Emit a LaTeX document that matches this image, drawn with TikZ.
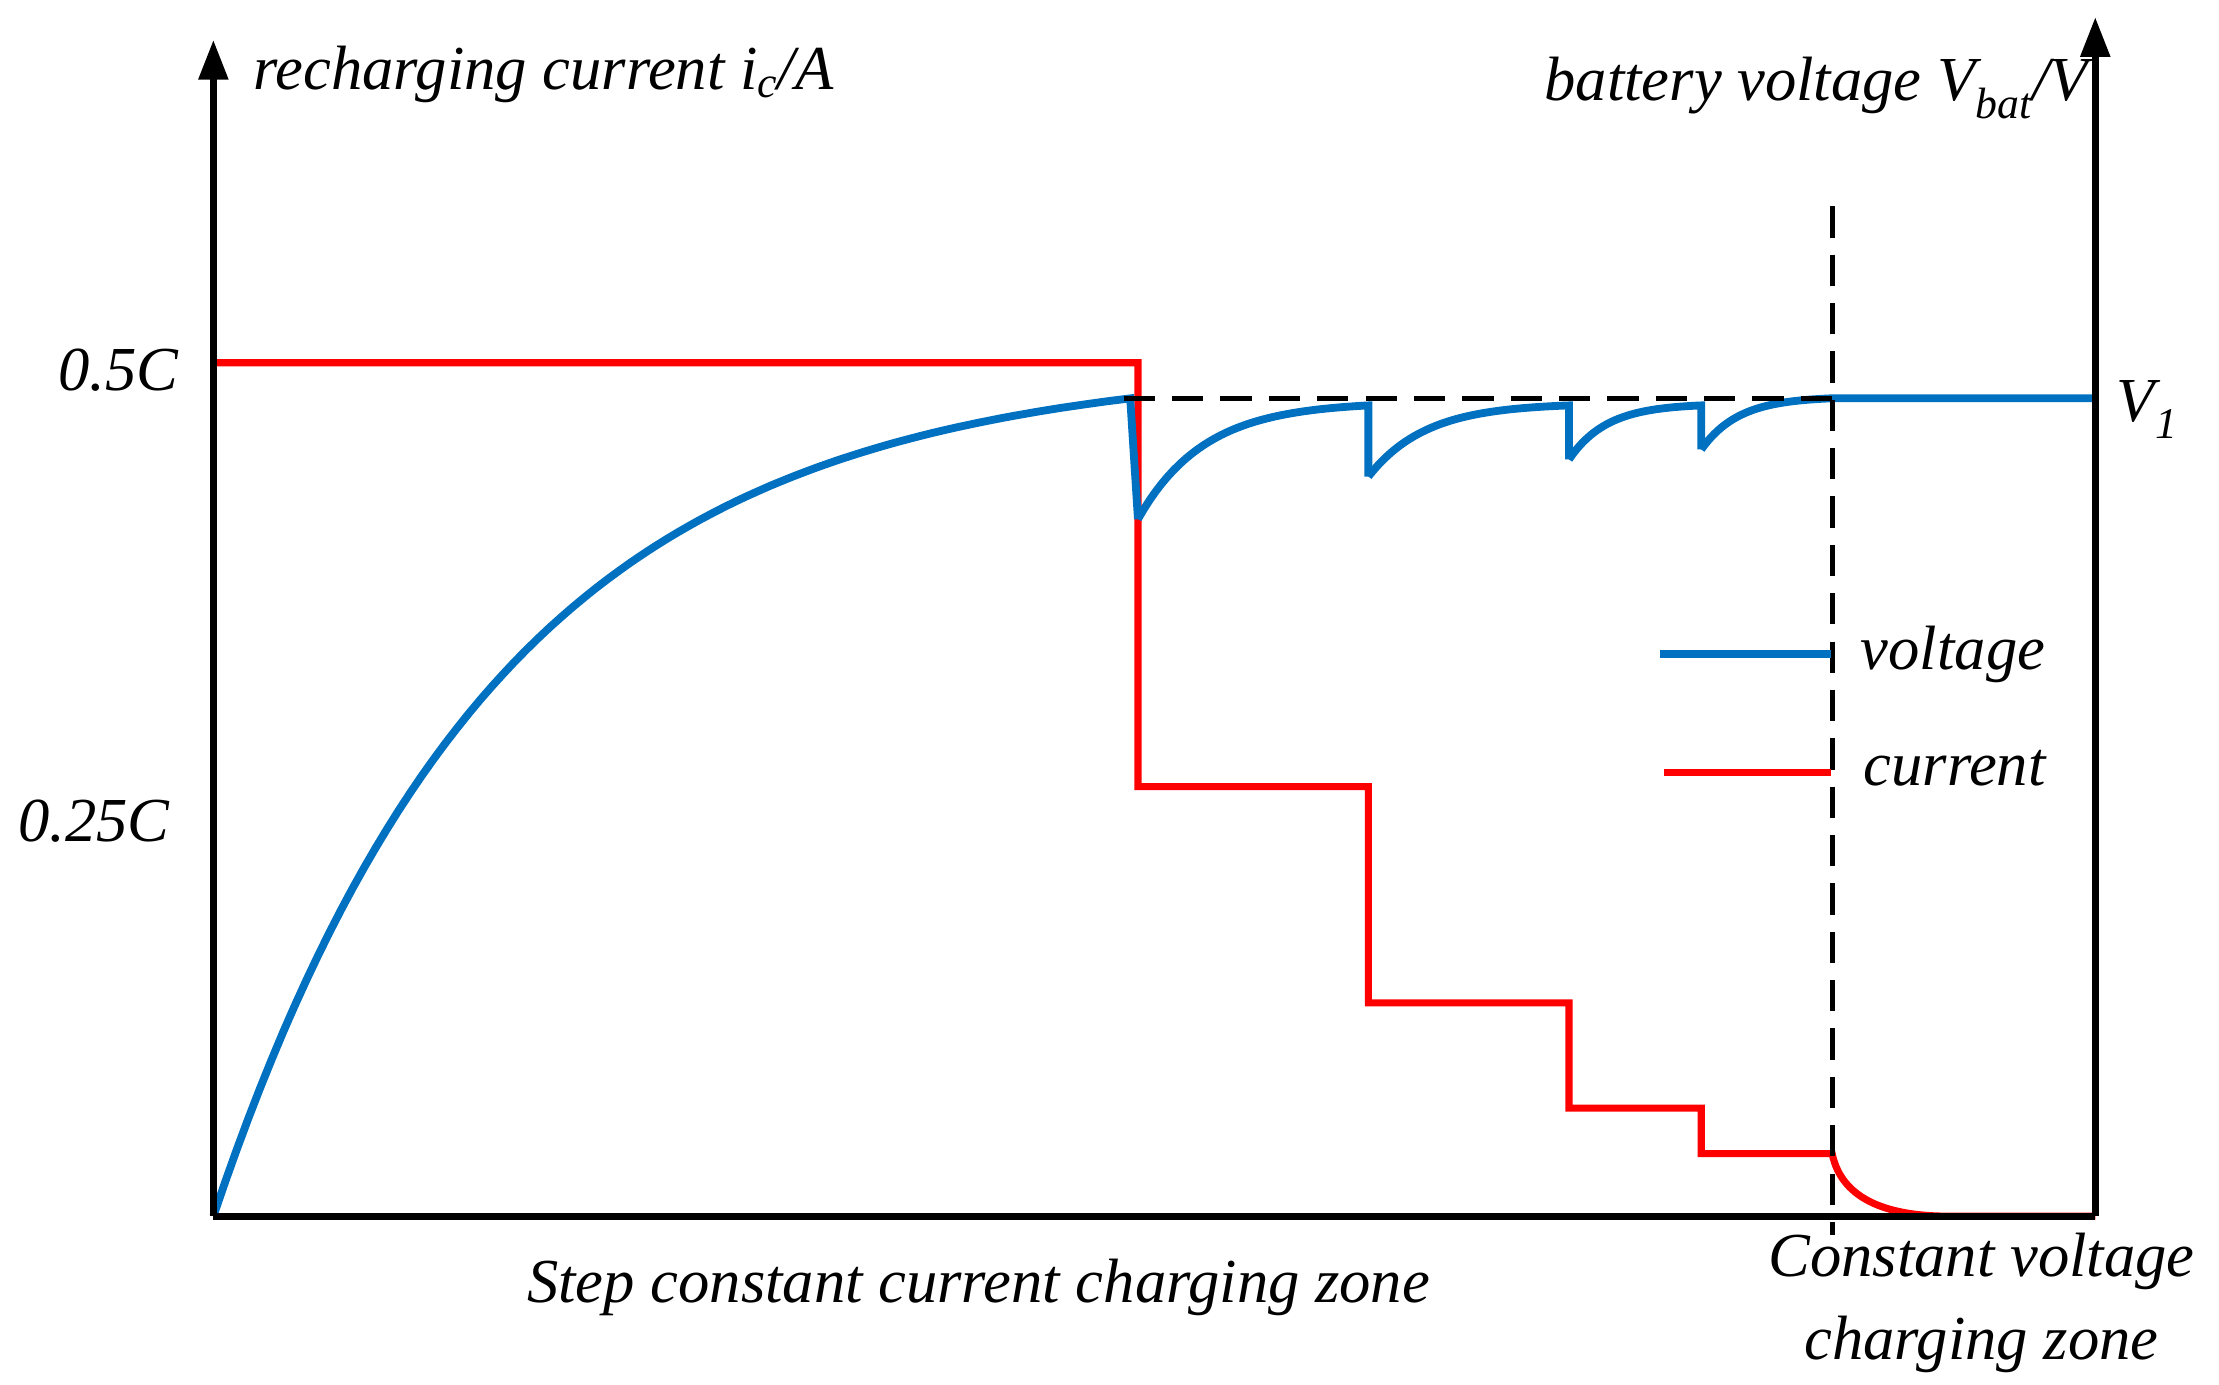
\documentclass[tikz,border=0pt]{standalone}
\usepackage{fontspec}
\setmainfont{Liberation Serif}
\usetikzlibrary{arrows.meta}
\definecolor{vblue}{RGB}{0,112,192}
\begin{document}
\begin{tikzpicture}[x=1pt,y=-1pt,
  ax/.style={line width=5pt,-{Triangle[length=28pt,width=20pt]}},
  vol/.style={vblue,line width=5.5pt},
  cur/.style={red,line width=5pt},
  dsh/.style={black,line width=3.5pt,dash pattern=on 22pt off 12pt},
  lab/.style={font=\fontsize{44}{52}\selectfont\itshape,inner sep=0pt}]
\useasboundingbox (0,0) rectangle (1560,973);
% current
\draw[cur] (150,255) -- (800,255) -- (800,553) -- (962,553) -- (962,705) -- (1103,705) -- (1103,779) -- (1196,779) -- (1196,811) -- (1288,811)
  .. controls (1295,845) and (1330,855) .. (1370,855) -- (1473,855);
% voltage
\draw[vol] plot[domain=0:1,samples=80] ({150+645*\x},{855-575*(1-exp(-3.2*\x))/(1-exp(-3.2))})
  -- (800,365);
\draw[vol] plot[domain=0:1,samples=40] ({800+162*\x},{365-80*(1-exp(-3.5*\x))/(1-exp(-3.5))}) -- (962,335);
\draw[vol] plot[domain=0:1,samples=40] ({962+141*\x},{335-50*(1-exp(-3.5*\x))/(1-exp(-3.5))}) -- (1103,323);
\draw[vol] plot[domain=0:1,samples=40] ({1103+93*\x},{323-38*(1-exp(-3.5*\x))/(1-exp(-3.5))}) -- (1196,316);
\draw[vol] plot[domain=0:1,samples=40] ({1196+92*\x},{316-36*(1-exp(-3.5*\x))/(1-exp(-3.5))}) -- (1473,280);
% dashed
\draw[dsh] (790,280) -- (1288,280);
\draw[dsh] (1288,145) -- (1288,868);
% axes
\draw[line width=5pt] (150,855) -- (1473,855);
\draw[ax] (150,855) -- (150,28);
\draw[ax] (1473,855) -- (1473,12);
% legend
\draw[vol] (1167,460) -- (1287,460);
\draw[cur] (1170,543) -- (1287,543);
\node[lab,anchor=west] (lv) at (1308,460) {voltage};
\node[lab,anchor=west] (lc) at (1310,540) {current};
% labels
\node[lab] (h) at (83,260) {0.5C};
\node[lab] (q) at (66,577) {0.25C};
\node[lab,anchor=west] (v1) at (1488,288) {V\textsubscript{1}};
\node[lab,anchor=west] (yl) at (178,52) {recharging current i\textsubscript{c}/A};
\node[lab,anchor=east] (yr) at (1468,62) {battery voltage V\textsubscript{bat}/V};
\node[lab] (z1) at (688,905) {Step constant current charging zone};
\node[lab] (z2) at (1393,887) {Constant voltage};
\node[lab] (z3) at (1393,945) {charging zone};
\end{tikzpicture}
\end{document}
